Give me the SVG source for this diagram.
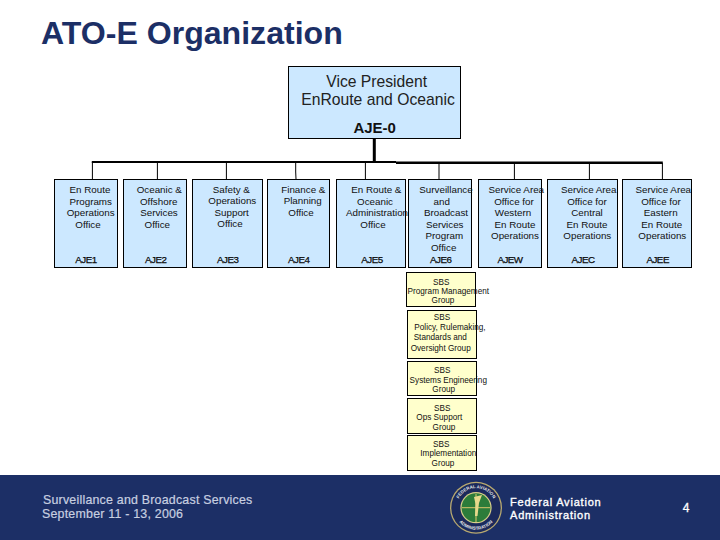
<svg xmlns="http://www.w3.org/2000/svg" width="720" height="540" viewBox="0 0 720 540">
<style>
text{font-family:"Liberation Sans",Arial,sans-serif;fill:#111}
.m{text-anchor:middle}
.o{font-size:9.8px}
.c{font-size:9.8px;stroke:#000;stroke-width:.25;letter-spacing:-.5px;text-anchor:middle}
.s{font-size:8.2px;text-anchor:middle}
.v{font-size:15.7px;text-anchor:middle;fill:#222}
.b{fill:#cce8ff;stroke:#000;stroke-width:1}
.y{fill:#ffffcc;stroke:#000;stroke-width:1}
.l{stroke:#000;stroke-width:1;fill:none}
.f{font-size:12.4px;fill:#c8cfe0;stroke:#c8cfe0;stroke-width:.2;letter-spacing:.22px}
.w{font-size:11px;fill:#fff;stroke:#fff;stroke-width:.35;letter-spacing:.8px}
.n{font-size:12px;fill:#fff;stroke:#fff;stroke-width:.3;text-anchor:middle}
</style>
<defs>
<path id="ringTop" d="M456.5 507.7A19.5 19.5 0 0 1 495.5 507.7"/>
<path id="ringBot" d="M454 507.7A22 22 0 0 0 498 507.7"/>
</defs>
<rect width="720" height="540" fill="#fff"/>
<text id="title" x="41" y="44" font-size="32.1" font-weight="bold" style="fill:#1c2f66">ATO-E Organization</text>
<g id="connectors">
<path d="M374.3 138V162" stroke="#000" stroke-width="3" fill="none"/>
<path d="M91.8 162H396" stroke="#000" stroke-width="2" fill="none"/>
<path d="M396 162.7H662.8" stroke="#000" stroke-width="2.4" fill="none"/>
<path class="l" d="M92.4 162V179M157.4 162V179M226.4 162V179M295.7 162V172L296 179M365.4 162V179M439 162V179M514.4 163V179M589.4 163V179M662.4 163V179"/>
</g>
<g id="vp">
<rect class="b" x="288.5" y="66.5" width="172" height="72"/>
<text class="v" x="376.7" y="87">Vice President</text>
<text class="v" x="378" y="105">EnRoute and Oceanic</text>
<text x="374.7" y="132.7" class="m" font-size="15" font-weight="bold">AJE-0</text>
</g>
<g id="aje1">
<rect class="b" x="54.5" y="179.5" width="63" height="88"/>
<text class="o m" x="90" y="193">En Route</text><text class="o m" x="90.7" y="205">Programs</text><text class="o m" x="90.7" y="216.3">Operations</text><text class="o m" x="88" y="228">Office</text>
<text class="c" x="86" y="262.7">AJE1</text>
</g>
<g id="aje2">
<rect class="b" x="123.5" y="179.5" width="63" height="88"/>
<text class="o m" x="159.3" y="193">Oceanic &amp;</text><text class="o m" x="158.7" y="205">Offshore</text><text class="o m" x="159" y="216.3">Services</text><text class="o m" x="157.3" y="228">Office</text>
<text class="c" x="155.7" y="262.7">AJE2</text>
</g>
<g id="aje3">
<rect class="b" x="192.5" y="179.5" width="70" height="88"/>
<text class="o m" x="231.3" y="193">Safety &amp;</text><text class="o m" x="232.3" y="204">Operations</text><text class="o m" x="231.7" y="216.3">Support</text><text class="o m" x="230" y="227">Office</text>
<text class="c" x="227.7" y="262.7">AJE3</text>
</g>
<g id="aje4">
<rect class="b" x="267.5" y="179.5" width="62" height="88"/>
<text class="o m" x="303.3" y="193">Finance &amp;</text><text class="o m" x="302.7" y="204">Planning</text><text class="o m" x="301" y="216.3">Office</text>
<text class="c" x="298.7" y="262.7">AJE4</text>
</g>
<g id="aje5">
<rect class="b" x="336.5" y="179.5" width="69" height="88"/>
<text class="o m" x="376.3" y="193">En Route &amp;</text><text class="o m" x="375" y="205">Oceanic</text><text class="o" x="346" y="216.3">Administration</text><text class="o m" x="373" y="228">Office</text>
<text class="c" x="372" y="262.7">AJE5</text>
</g>
<g id="aje6">
<rect class="b" x="408.5" y="179.5" width="63" height="88"/>
<text class="o m" x="446" y="193">Surveillance</text><text class="o m" x="441.7" y="205">and</text><text class="o m" x="446" y="216.3">Broadcast</text><text class="o m" x="444.7" y="228">Services</text><text class="o m" x="444.3" y="239.3">Program</text><text class="o m" x="443.7" y="251.3">Office</text>
<text class="c" x="440.7" y="262.7">AJE6</text>
</g>
<g id="ajew">
<rect class="b" x="478.5" y="179.5" width="63" height="88"/>
<text class="o m" x="516.3" y="193">Service Area</text><text class="o m" x="514" y="205">Office for</text><text class="o m" x="513" y="216.3">Western</text><text class="o m" x="515" y="228">En Route</text><text class="o m" x="515" y="239.3">Operations</text>
<text class="c" x="510" y="262.7">AJEW</text>
</g>
<g id="ajec">
<rect class="b" x="547.5" y="179.5" width="70" height="88"/>
<text class="o m" x="588.7" y="193">Service Area</text><text class="o m" x="587" y="205">Office for</text><text class="o m" x="587" y="216.3">Central</text><text class="o m" x="587" y="228">En Route</text><text class="o m" x="587.3" y="239.3">Operations</text>
<text class="c" x="583" y="262.7">AJEC</text>
</g>
<g id="ajee">
<rect class="b" x="622.5" y="179.5" width="69" height="88"/>
<text class="o m" x="663.3" y="193">Service Area</text><text class="o m" x="661" y="205">Office for</text><text class="o m" x="660.7" y="216.3">Eastern</text><text class="o m" x="661.7" y="228">En Route</text><text class="o m" x="662.3" y="239.3">Operations</text>
<text class="c" x="657.7" y="262.7">AJEE</text>
</g>
<g id="sbs1">
<rect class="y" x="406.5" y="272.5" width="69" height="34"/>
<text class="s" x="441.3" y="284.5">SBS</text><text class="s" x="448.3" y="294">Program Management</text><text class="s" x="443" y="302.7">Group</text>
</g>
<g id="sbs2">
<rect class="y" x="407.5" y="310.5" width="69" height="48"/>
<text class="s" x="442" y="320.3">SBS</text><text class="s" x="450" y="329.5">Policy, Rulemaking,</text><text class="s" x="440.3" y="339.5">Standards and</text><text class="s" x="440.7" y="350.5">Oversight Group</text>
</g>
<g id="sbs3">
<rect class="y" x="407.5" y="361.5" width="69" height="34"/>
<text class="s" x="442.3" y="373.3">SBS</text><text class="s" x="448.3" y="382.5">Systems Engineering</text><text class="s" x="443.7" y="391.7">Group</text>
</g>
<g id="sbs4">
<rect class="y" x="407.5" y="398.5" width="69" height="35"/>
<text class="s" x="442.3" y="411">SBS</text><text class="s" x="439.3" y="420.3">Ops Support</text><text class="s" x="444" y="429.7">Group</text>
</g>
<g id="sbs5">
<rect class="y" x="407.5" y="435.5" width="69" height="35"/>
<text class="s" x="441.3" y="447">SBS</text><text class="s" x="448.3" y="456.3">Implementation</text><text class="s" x="443" y="465.7">Group</text>
</g>
<g id="footer">
<rect x="0" y="475" width="720" height="65" fill="#1c2f66"/>
<text class="f" x="43" y="503.7">Surveillance and Broadcast Services</text>
<text class="f" x="42" y="517.7">September 11 - 13, 2006</text>
<text class="w" x="510" y="506.3">Federal Aviation</text>
<text class="w" x="510" y="519.1">Administration</text>
<text class="n" x="686" y="511.5">4</text>
</g>
<g id="seal">
<circle cx="476" cy="507.7" r="26" fill="#b8a970"/>
<circle cx="476" cy="507.7" r="24.7" fill="#1b2a5c"/>
<circle cx="476" cy="507.7" r="15.6" fill="#d9cf8a"/>
<circle cx="476" cy="507.7" r="14.4" fill="#2c7c3a"/>
<path d="M462 507.7H490M476 494V522" stroke="#d9c66a" stroke-width="1" fill="none"/>
<path d="M474 497L482 495L479 503L477.5 516L475 516L475.5 504Z" fill="#e6d98c"/>
<text font-size="4.4" font-weight="bold" style="fill:#e8e8e8" text-anchor="middle"><textPath href="#ringTop" startOffset="50%">FEDERAL AVIATION</textPath></text>
<text font-size="4.4" font-weight="bold" style="fill:#e8e8e8" text-anchor="middle"><textPath href="#ringBot" startOffset="50%">ADMINISTRATION</textPath></text>
</g>
</svg>
